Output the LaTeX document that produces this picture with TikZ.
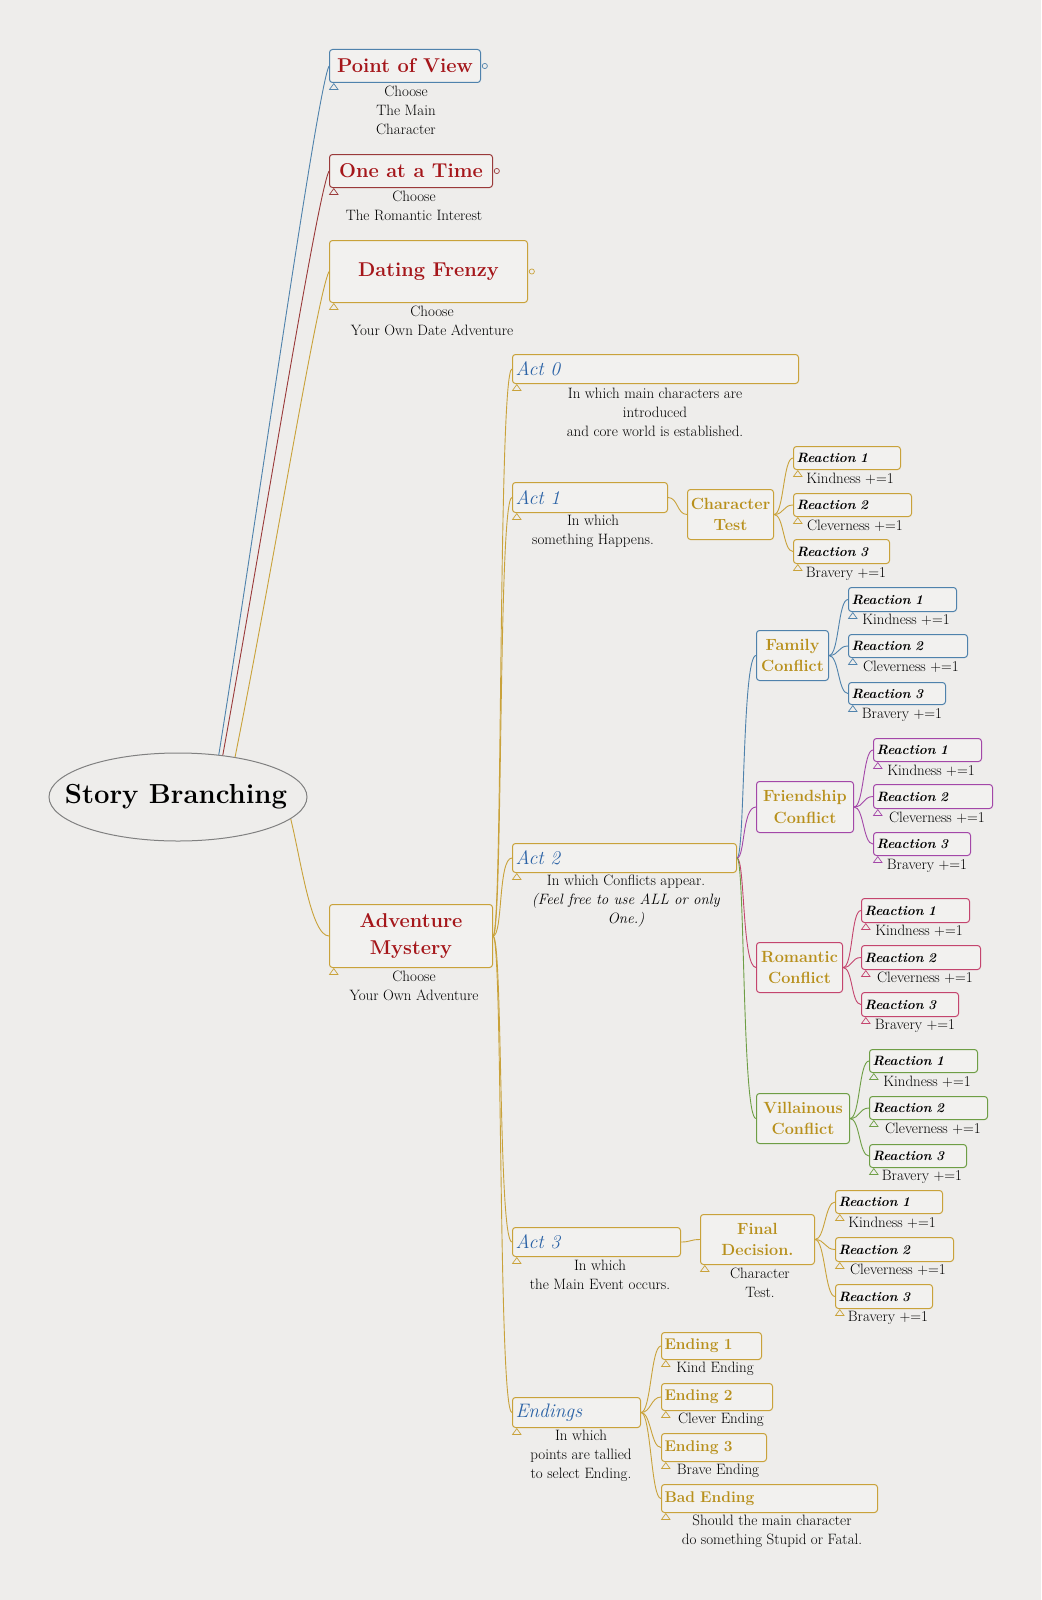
\documentclass[tikz,border=0pt]{standalone}
\usetikzlibrary{shapes.geometric,calc}
\definecolor{bgc}{HTML}{EEEDEB}
\definecolor{boxf}{HTML}{F2F1EF}
\definecolor{cblue}{HTML}{4F82AC}
\definecolor{cdred}{HTML}{9A3A3A}
\definecolor{cgold}{HTML}{C9A23A}
\definecolor{cpurp}{HTML}{A347A8}
\definecolor{cpink}{HTML}{C4456E}
\definecolor{cgreen}{HTML}{6E9E45}
\definecolor{tred}{HTML}{A5161A}
\definecolor{tgold}{HTML}{B8901C}
\definecolor{tblue}{HTML}{2A62A6}
\definecolor{tblack}{HTML}{000000}
\tikzset{
  bx/.style={draw=#1, rounded corners=3pt, line width=1pt, fill=boxf, anchor=north west, inner xsep=3pt, inner ysep=0pt},
  ttl/.style={font=\bfseries\fontsize{20}{27}\selectfont, text=tred, align=center},
  actl/.style={font=\itshape\fontsize{19.5}{24}\selectfont, text=tblue, align=left},
  rxl/.style={font=\bfseries\itshape\fontsize{13.5}{16}\selectfont, text=tblack, align=left},
  cfl/.style={font=\bfseries\fontsize{16.2}{21.5}\selectfont, text=tgold, align=center},
  enl/.style={font=\bfseries\fontsize{15.5}{20}\selectfont, text=tgold, align=left},
  sub/.style={font=\fontsize{15}{19}\selectfont, align=center, anchor=north, inner sep=0pt, text=tblack},
  ln/.style={draw=#1, line width=0.9pt},
}
\newcommand\mktri[2]{\draw[#2, line width=0.7pt] ([shift={(0.5,6.5)}]#1.south west) -- ([shift={(4.8,0.6)}]#1.south west) -- ([shift={(9,6.5)}]#1.south west) -- cycle;}
\newcommand\mkcirc[2]{\draw[#2, line width=0.7pt] ([xshift=3.8pt]#1.east) circle (2.6pt);}
\begin{document}
\begin{tikzpicture}[x=1pt,y=-1pt]
\useasboundingbox (0,0) rectangle (1041,1600);
\fill[bgc] (0,0) rectangle (1041,1600);

% root
\node[ellipse, draw=gray, line width=1pt, minimum width=258, minimum height=88, inner sep=0pt, fill=bgc] (sb) at (178,797) {};
\node[font=\bfseries\fontsize{27.5}{30}\selectfont, text=black, inner sep=0pt] (sbt) at (176,797) {Story Branching};

% top-level
\node[bx=cblue, ttl, minimum width=151, minimum height=33] (pov) at (329,49) {Point of View};
\node[bx=cdred, ttl, minimum width=163, minimum height=33] (oat) at (329,154) {One at a Time};
\node[bx=cgold, ttl, minimum width=198, minimum height=62] (df) at (329,240) {Dating Frenzy};
\node[bx=cgold, ttl, minimum width=163, minimum height=63] (am) at (329,904) {Adventure\\Mystery};

\node[sub] (povs) at (406,86) {Choose\\The Main\\Character};
\node[sub] (oats) at (414,191) {Choose\\The Romantic Interest};
\node[sub] (dfs) at (432,306) {Choose\\Your Own Date Adventure};
\node[sub] (ams) at (414,971) {Choose\\Your Own Adventure};

% acts
\node[bx=cgold, actl, text width=280, minimum height=29] (act0) at (512,354) {Act 0};
\node[bx=cgold, actl, text width=149, minimum height=30] (act1) at (512,482) {Act 1};
\node[bx=cgold, actl, text width=218, minimum height=29] (act2) at (512,843) {Act 2};
\node[bx=cgold, actl, text width=162, minimum height=29] (act3) at (512,1227) {Act 3};
\node[bx=cgold, actl, text width=122, minimum height=30] (end) at (512,1397) {Endings};

\node[sub] (act0s) at (655,388) {In which main characters are\\introduced\\and core world is established.};
\node[sub] (act1s) at (593,515) {In which\\something Happens.};
\node[sub] (act2s) at (626,875) {In which Conflicts appear.\\\textit{(Feel free to use ALL or only}\\\textit{One.)}};
\node[sub] (act3s) at (600,1260) {In which\\the Main Event occurs.};
\node[sub] (ends) at (581,1430) {In which\\points are tallied\\to select Ending.};

% second level
\node[bx=cgold, cfl, minimum width=86, minimum height=50] (ct) at (687,489) {Character\\Test};
\node[bx=cblue, cfl, minimum width=72, minimum height=50] (fam) at (756,630) {Family\\Conflict};
\node[bx=cpurp, cfl, minimum width=97, minimum height=51] (fri) at (756,781) {Friendship\\Conflict};
\node[bx=cpink, cfl, minimum width=86, minimum height=50] (rom) at (756,942) {Romantic\\Conflict};
\node[bx=cgreen, cfl, minimum width=93, minimum height=50] (vil) at (756,1093) {Villainous\\Conflict};
\node[bx=cgold, cfl, minimum width=114, minimum height=50] (fd) at (700,1214) {Final\\Decision.};
\node[sub] (fds) at (760,1268) {Character\\Test.};

% reactions
\node[bx=cgold, rxl, text width=101, minimum height=23] (ctr1) at (793,446) {Reaction 1};
\node[bx=cgold, rxl, text width=112, minimum height=23] (ctr2) at (793,493) {Reaction 2};
\node[bx=cgold, rxl, text width=90, minimum height=24] (ctr3) at (793,539) {Reaction 3};
\node[sub] (ctr1s) at (850,473) {Kindness +=1};
\node[sub] (ctr2s) at (855,520) {Cleverness +=1};
\node[sub] (ctr3s) at (846,567) {Bravery +=1};

\node[bx=cblue, rxl, text width=102, minimum height=24] (famr1) at (848,587) {Reaction 1};
\node[bx=cblue, rxl, text width=113, minimum height=23] (famr2) at (848,634) {Reaction 2};
\node[bx=cblue, rxl, text width=91, minimum height=22] (famr3) at (848,682) {Reaction 3};
\node[sub] (famr1s) at (906,614) {Kindness +=1};
\node[sub] (famr2s) at (911,661) {Cleverness +=1};
\node[sub] (famr3s) at (902,708) {Bravery +=1};

\node[bx=cpurp, rxl, text width=102, minimum height=23] (frir1) at (873,738) {Reaction 1};
\node[bx=cpurp, rxl, text width=113, minimum height=24] (frir2) at (873,784) {Reaction 2};
\node[bx=cpurp, rxl, text width=91, minimum height=23] (frir3) at (873,832) {Reaction 3};
\node[sub] (frir1s) at (931,765) {Kindness +=1};
\node[sub] (frir2s) at (937,812) {Cleverness +=1};
\node[sub] (frir3s) at (927,859) {Bravery +=1};

\node[bx=cpink, rxl, text width=102, minimum height=24] (romr1) at (861,898) {Reaction 1};
\node[bx=cpink, rxl, text width=113, minimum height=24] (romr2) at (861,945) {Reaction 2};
\node[bx=cpink, rxl, text width=91, minimum height=24] (romr3) at (861,992) {Reaction 3};
\node[sub] (romr1s) at (919,925) {Kindness +=1};
\node[sub] (romr2s) at (925,972) {Cleverness +=1};
\node[sub] (romr3s) at (915,1019) {Bravery +=1};

\node[bx=cgreen, rxl, text width=102, minimum height=23] (vilr1) at (869,1049) {Reaction 1};
\node[bx=cgreen, rxl, text width=112, minimum height=23] (vilr2) at (869,1096) {Reaction 2};
\node[bx=cgreen, rxl, text width=91, minimum height=23] (vilr3) at (869,1144) {Reaction 3};
\node[sub] (vilr1s) at (927,1076) {Kindness +=1};
\node[sub] (vilr2s) at (933,1123) {Cleverness +=1};
\node[sub] (vilr3s) at (922,1170) {Bravery +=1};

\node[bx=cgold, rxl, text width=101, minimum height=23] (fdr1) at (835,1190) {Reaction 1};
\node[bx=cgold, rxl, text width=112, minimum height=24] (fdr2) at (835,1237) {Reaction 2};
\node[bx=cgold, rxl, text width=91, minimum height=24] (fdr3) at (835,1284) {Reaction 3};
\node[sub] (fdr1s) at (892,1217) {Kindness +=1};
\node[sub] (fdr2s) at (898,1264) {Cleverness +=1};
\node[sub] (fdr3s) at (888,1311) {Bravery +=1};

% endings
\node[bx=cgold, enl, text width=94, minimum height=27] (e1) at (661,1332) {Ending 1};
\node[bx=cgold, enl, text width=105, minimum height=27] (e2) at (661,1383) {Ending 2};
\node[bx=cgold, enl, text width=99, minimum height=28] (e3) at (661,1433) {Ending 3};
\node[bx=cgold, enl, text width=210, minimum height=28] (eb) at (661,1484) {Bad Ending};
\node[sub] (e1s) at (715,1362) {Kind Ending};
\node[sub] (e2s) at (721,1413) {Clever Ending};
\node[sub] (e3s) at (718,1464) {Brave Ending};
\node[sub] (ebs) at (772,1515) {Should the main character\\do something Stupid or Fatal.};

% connectors
\draw[ln=cblue] (sb.46) .. controls +(40,-250) and +(-12,25) .. (pov.west);
\draw[ln=cdred] (sb.43) .. controls +(40,-220) and +(-12,25) .. (oat.west);
\draw[ln=cgold] (sb.35) .. controls +(40,-200) and +(-12,25) .. (df.west);
\draw[ln=cgold] (sb.-11) .. controls +(10,40) and +(-18,0) .. (am.west);

\foreach \t in {act0,act1,act2,act3,end}
  \draw[ln=cgold] (am.east) .. controls +(10,0) and +(-14,0) .. (\t.west);

\draw[ln=cgold] (act1.east) .. controls +(10,0) and +(-10,0) .. (ct.west);
\foreach \t in {ctr1,ctr2,ctr3}
  \draw[ln=cgold] (ct.east) .. controls +(10,0) and +(-10,0) .. (\t.west);

\draw[ln=cblue] (act2.east) .. controls +(8,0) and +(-14,0) .. (fam.west);
\draw[ln=cpurp] (act2.east) .. controls +(8,0) and +(-14,0) .. (fri.west);
\draw[ln=cpink] (act2.east) .. controls +(8,0) and +(-14,0) .. (rom.west);
\draw[ln=cgreen] (act2.east) .. controls +(8,0) and +(-14,0) .. (vil.west);

\foreach \t in {famr1,famr2,famr3}
  \draw[ln=cblue] (fam.east) .. controls +(10,0) and +(-10,0) .. (\t.west);
\foreach \t in {frir1,frir2,frir3}
  \draw[ln=cpurp] (fri.east) .. controls +(10,0) and +(-10,0) .. (\t.west);
\foreach \t in {romr1,romr2,romr3}
  \draw[ln=cpink] (rom.east) .. controls +(10,0) and +(-10,0) .. (\t.west);
\foreach \t in {vilr1,vilr2,vilr3}
  \draw[ln=cgreen] (vil.east) .. controls +(10,0) and +(-10,0) .. (\t.west);

\draw[ln=cgold] (act3.east) .. controls +(10,0) and +(-10,0) .. (fd.west);
\foreach \t in {fdr1,fdr2,fdr3}
  \draw[ln=cgold] (fd.east) .. controls +(10,0) and +(-10,0) .. (\t.west);
\foreach \t in {e1,e2,e3,eb}
  \draw[ln=cgold] (end.east) .. controls +(10,0) and +(-10,0) .. (\t.west);

% markers
\mktri{pov}{cblue}\mktri{oat}{cdred}\mktri{df}{cgold}\mktri{am}{cgold}
\mkcirc{pov}{cblue}\mkcirc{oat}{cdred}\mkcirc{df}{cgold}
\foreach \t in {act0,act1,act2,act3,end,fd,ctr1,ctr2,ctr3,fdr1,fdr2,fdr3,e1,e2,e3,eb}
  {\mktri{\t}{cgold}}
\foreach \t in {famr1,famr2,famr3}{\mktri{\t}{cblue}}
\foreach \t in {frir1,frir2,frir3}{\mktri{\t}{cpurp}}
\foreach \t in {romr1,romr2,romr3}{\mktri{\t}{cpink}}
\foreach \t in {vilr1,vilr2,vilr3}{\mktri{\t}{cgreen}}
\end{tikzpicture}
\end{document}
